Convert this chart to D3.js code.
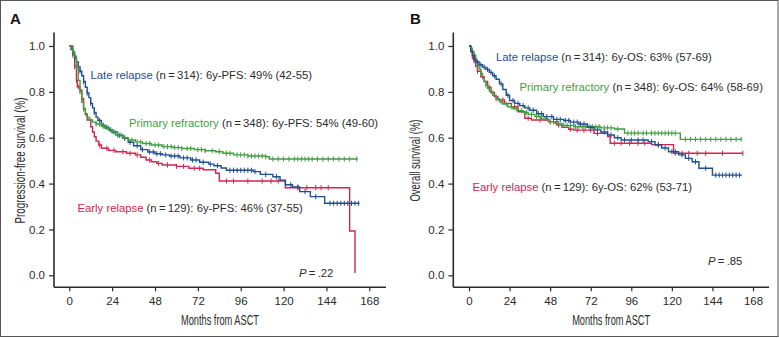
<!DOCTYPE html>
<html><head><meta charset="utf-8">
<script src="https://cdn.jsdelivr.net/npm/d3@7"></script>
<style>
html,body{margin:0;padding:0;background:#fff;}
svg{display:block;font-family:"Liberation Sans",Arial,Helvetica,sans-serif;}
</style></head>
<body>
<svg id="chart" width="779" height="338"></svg>
<script>
// ---------- DATA ----------
const monthTicks = [0, 24, 48, 72, 96, 120, 144, 168];
const survTicks = [0, 0.2, 0.4, 0.6, 0.8, 1.0];
const panelLetters = ["A", "B"];
const yTitles = ["Progression-free survival (%)", "Overall survival (%)"];
const xTitle = "Months from ASCT";
const groupNames = ["Late relapse", "Primary refractory", "Early relapse"];
const pfsLegendRest = [" (n\u2009=\u2009314): 6y-PFS: 49% (42-55)", " (n\u2009=\u2009348): 6y-PFS: 54% (49-60)", " (n\u2009=\u2009129): 6y-PFS: 46% (37-55)"];
const osLegendRest = [" (n\u2009=\u2009314): 6y-OS: 63% (57-69)", " (n\u2009=\u2009348): 6y-OS: 64% (58-69)", " (n\u2009=\u2009129): 6y-OS: 62% (53-71)"];
const pValues = [".22", ".85"];

// PFS - Late relapse
const pfsLateTime = [0,1,2,3,4,5,6,7,8,9,10,11,12,13,14,15,16,18,20,22,24,27,30,33,36,40,44,48,52,56,62,68,73,78,81,85,88,103,107,114,118,121,125,129,135,143,162.5];
const pfsLateSurv = [1,0.985,0.965,0.948,0.93,0.91,0.89,0.87,0.845,0.82,0.795,0.775,0.75,0.73,0.71,0.69,0.675,0.655,0.645,0.635,0.625,0.61,0.597,0.58,0.565,0.548,0.538,0.53,0.525,0.52,0.512,0.503,0.493,0.485,0.478,0.468,0.458,0.452,0.44,0.43,0.415,0.395,0.385,0.365,0.343,0.314,0.314];
const pfsLateCens = [3,5,6,8,10,12,14,17,19,21,23,25,28,31,34,38,41,45,47,49,51,54,57,59,61,64,66,69,71,75,79,83,90,92,94,96,98,100,102,104,110,116,124,128,132,138,146,148,150,152,154,156,158,160,162];

// PFS - Primary refractory
const pfsPrimTime = [0,1,2,3,4,5,6,7,8,9,10,11,13,15,18,20,23,26,30,33,37,41,46,52,58,63,70,76,82,86,92,100,110,112,161.5];
const pfsPrimSurv = [1,0.99,0.975,0.955,0.91,0.85,0.8,0.755,0.725,0.705,0.69,0.677,0.668,0.66,0.65,0.641,0.628,0.612,0.6,0.59,0.582,0.575,0.568,0.561,0.557,0.553,0.548,0.543,0.539,0.532,0.525,0.52,0.517,0.507,0.507];
const pfsPrimCens = [2,4,6,8,12,15,17,19,22,24,27,29,31,35,38,40,43,45,48,50,53,55,57,59,61,63,66,68,72,74,76,80,84,88,90,94,96,98,100,102,104,106,108,110,114,117,120,123,126,128,130,132,134,136,139,142,145,148,151,154,157,161];

// PFS - Early relapse
const pfsEarlyTime = [0,2,3,4,4.5,6,7,8,9,10,12,13,14,15,16.5,18,22,26,32,37,40,43,46,49,52,60,67,75,82,84,121,157,160,160];
const pfsEarlySurv = [1,0.96,0.91,0.85,0.822,0.808,0.77,0.728,0.7,0.677,0.648,0.625,0.604,0.585,0.568,0.554,0.545,0.539,0.532,0.525,0.515,0.503,0.495,0.488,0.481,0.475,0.467,0.46,0.445,0.411,0.382,0.193,0.01,0.01];
const pfsEarlyCens = [2,3,4,5,7,17,21,25,30,34,38,45,50,55,60,64,70,73,88,92,100,108,113,117,128,133,138,141,145];

// OS - Late relapse
const osLateTime = [0,1,2,3,4,6,8,10,12,14,16,18,20,22,24,27,30,33,36,40,44,50,56,60,65,70,74,78,82,86,90,106,110,114,118,124,128,132,136,144,161.5];
const osLateSurv = [1,0.98,0.96,0.945,0.93,0.918,0.908,0.898,0.885,0.87,0.855,0.835,0.81,0.785,0.762,0.75,0.74,0.73,0.72,0.705,0.692,0.68,0.675,0.668,0.66,0.645,0.634,0.625,0.612,0.6,0.59,0.583,0.568,0.555,0.539,0.525,0.51,0.495,0.467,0.437,0.437];
const osLateCens = [3,5,7,9,11,13,15,19,23,26,29,32,35,38,41,43,46,49,52,54,57,59,62,64,66,68,72,76,80,84,88,92,96,100,103,108,112,116,120,122,126,130,134,140,146,148,150,152,154,156,158,160];

// OS - Primary refractory
const osPrimTime = [0,1,2,3,4,5,6,7,8,9,10,11,12,14,16,18,20,23,26,29,32,35,39,43,47,51,55,62,78,86,92,125,161.5];
const osPrimSurv = [1,0.99,0.975,0.96,0.935,0.915,0.9,0.88,0.862,0.845,0.83,0.815,0.803,0.785,0.77,0.757,0.747,0.735,0.726,0.718,0.71,0.702,0.692,0.682,0.67,0.662,0.653,0.648,0.643,0.638,0.62,0.593,0.593];
const osPrimCens = [2,3,5,7,10,13,16,19,22,25,28,31,34,37,40,42,45,48,50,53,56,58,60,63,65,67,69,71,73,75,77,80,82,84,88,94,96,98,100,103,105,108,110,112,114,116,118,120,122,128,131,134,137,140,143,146,149,152,155,158,161];

// OS - Early relapse
const osEarlyTime = [0,1,2,3,4,5,7,9,11,13,15,17,21,25,29,33,37,47,52,55,59,62,74,82,83.5,108,121,162];
const osEarlySurv = [1,0.975,0.953,0.935,0.91,0.89,0.866,0.845,0.82,0.797,0.78,0.765,0.75,0.735,0.713,0.685,0.677,0.67,0.655,0.645,0.637,0.633,0.619,0.605,0.576,0.57,0.532,0.532];
const osEarlyCens = [2,3,5,8,12,20,27,35,42,48,53,60,64,68,72,76,86,90,95,100,104,112,122,126,130,135,140,150,162];

// ---------- STYLE ----------
const colors = ["#1f4f8e", "#3f9f3f", "#d3264f"];
const axisColor = "#2b2b2b";
const textColor = "#2b2b2b";

const svg = d3.select("#chart");
svg.append("rect").attr("x", 0.5).attr("y", 0.5).attr("width", 777.5).attr("height", 336)
  .attr("fill", "none").attr("stroke", "#555").attr("stroke-width", 1);

const panels = [
  { xr: [69.3, 369.3], axisX: 54, axisRight: 386, letterX: 10, ytX: 24.5,
    series: [[pfsLateTime, pfsLateSurv, pfsLateCens], [pfsPrimTime, pfsPrimSurv, pfsPrimCens], [pfsEarlyTime, pfsEarlySurv, pfsEarlyCens]],
    drawOrder: [2, 0, 1],
    legendRest: pfsLegendRest,
    legendPos: [[90.5, 79], [129, 127], [77.5, 212]],
    pPos: [299, 277] },
  { xr: [469, 753], axisX: 453.3, axisRight: 769, letterX: 410, ytX: 419.5,
    series: [[osLateTime, osLateSurv, osLateCens], [osPrimTime, osPrimSurv, osPrimCens], [osEarlyTime, osEarlySurv, osEarlyCens]],
    drawOrder: [2, 1, 0],
    legendRest: osLegendRest,
    legendPos: [[496, 61], [519.5, 91], [472.5, 190.5]],
    pPos: [708, 264.5] }
];

const yTop = 32.5, yBottom = 287.3;

panels.forEach((p, pi) => {
  const x = d3.scaleLinear().domain([0, 168]).range(p.xr);
  const y = d3.scaleLinear().domain([0, 1]).range([275.3, 46]);
  const g = svg.append("g");

  // axes
  const yAxis = g.append("g").attr("transform", `translate(${p.axisX},0)`)
    .call(d3.axisLeft(y).tickValues(survTicks).tickFormat(d3.format(".1f")).tickSize(5).tickPadding(4));
  const xAxis = g.append("g").attr("transform", `translate(0,${yBottom})`)
    .call(d3.axisBottom(x).tickValues(monthTicks).tickSize(4).tickPadding(6));
  [yAxis, xAxis].forEach(a => {
    a.select(".domain").remove();
    a.selectAll(".tick line").attr("stroke", axisColor).attr("stroke-width", 1.2);
    a.selectAll(".tick text").attr("fill", textColor).style("font-size", "11.5px")
      .style("font-family", "'Liberation Sans', Arial, sans-serif");
  });
  g.append("line").attr("x1", p.axisX).attr("x2", p.axisX).attr("y1", yTop).attr("y2", yBottom)
    .attr("stroke", axisColor).attr("stroke-width", 1.6);
  g.append("line").attr("x1", p.axisX).attr("x2", p.axisRight).attr("y1", yBottom).attr("y2", yBottom)
    .attr("stroke", axisColor).attr("stroke-width", 1.6);

  // titles
  g.append("text").attr("x", p.letterX).attr("y", 24).text(panelLetters[pi])
    .attr("fill", "#111").style("font-size", "15px").style("font-weight", "bold");
  g.append("text").attr("x", (p.axisX + p.axisRight) / 2).attr("y", 325).attr("text-anchor", "middle")
    .attr("textLength", 78).attr("lengthAdjust", "spacingAndGlyphs")
    .attr("fill", textColor).style("font-size", "14.5px").text(xTitle);
  const ytLen = pi === 0 ? 126 : 82;
  g.append("text").attr("transform", `translate(${p.ytX},160.5) rotate(-90)`).attr("text-anchor", "middle")
    .attr("textLength", ytLen).attr("lengthAdjust", "spacingAndGlyphs")
    .attr("fill", textColor).style("font-size", "14.5px").text(yTitles[pi]);

  // curves
  const line = d3.line().x(d => x(d[0])).y(d => y(d[1])).curve(d3.curveStepAfter);
  p.drawOrder.forEach(si => {
    const [tArr, sArr, cArr] = p.series[si];
    const pts = tArr.map((t, i) => [t, sArr[i]]);
    g.append("path").datum(pts).attr("d", line).attr("fill", "none")
      .attr("stroke", colors[si]).attr("stroke-width", 1.4);
    const bis = d3.bisector(d => d).right;
    const survAt = t => sArr[Math.max(0, bis(tArr, t) - 1)];
    g.append("g").selectAll("line").data(cArr).join("line")
      .attr("x1", d => x(d)).attr("x2", d => x(d))
      .attr("y1", d => y(survAt(d)) - 2.6).attr("y2", d => y(survAt(d)) + 2.6)
      .attr("stroke", colors[si]).attr("stroke-width", 1);
  });

  // legend labels
  groupNames.forEach((name, i) => {
    const t = g.append("text").attr("x", p.legendPos[i][0]).attr("y", p.legendPos[i][1])
      .style("font-size", "11.3px");
    t.append("tspan").attr("fill", colors[i]).text(name);
    t.append("tspan").attr("fill", textColor).text(p.legendRest[i]);
  });
  const pt = g.append("text").attr("x", p.pPos[0]).attr("y", p.pPos[1]).style("font-size", "11.3px").attr("fill", textColor);
  pt.append("tspan").style("font-style", "italic").text("P");
  pt.append("tspan").text("\u2009=\u2009" + pValues[pi]);
});
</script>
</body></html>
